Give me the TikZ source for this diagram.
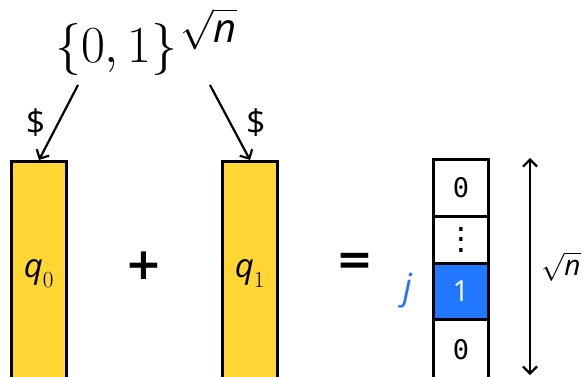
\RequirePackage{fix-cm}
\documentclass[tikz,border=0pt]{standalone}
\usepackage{amsmath}
\usepackage{fontspec}
\setsansfont{Open Sans}
\newfontfamily\monofont{DejaVu Sans Mono}
\newfontfamily\symfont{DejaVu Sans}
\usetikzlibrary{arrows.meta,positioning}
\definecolor{qYellow}{RGB}{255,214,51}
\definecolor{qBlue}{RGB}{33,120,255}
\newcommand{\celldots}{\vbox{\baselineskip=10.5pt\lineskiplimit=-20pt\hbox{.}\hbox{.}\hbox{.}}}

\begin{document}
\begin{tikzpicture}[x=1pt, y=-1pt, >={Straight Barb[length=7pt,width=14pt]}, line width=2.2pt]
\tikzstyle{bar}=[draw, line width=3pt, fill=qYellow, minimum width=55pt, minimum height=224pt, inner sep=0pt, anchor=north, font=\fontsize{33}{33}\selectfont]
\tikzstyle{cell}=[draw, line width=3pt, fill=white, minimum width=55pt, inner sep=0pt, font=\monofont\fontsize{27}{27}\selectfont]
\tikzstyle{lbl}=[font=\sffamily\fontsize{34}{34}\selectfont, inner sep=1pt]
\useasboundingbox (0,0) rectangle (583,376);

% random strings
\node[anchor=base west, inner sep=0pt, font=\fontsize{52}{54}\selectfont] (set) at (54,62) {$\{0,1\}$\hspace{3pt}\raisebox{20pt}{\fontsize{40}{40}\selectfont$\sqrt{\text{\sffamily\itshape n}}$}};
\coordinate (srcL) at (78,85);
\coordinate (srcR) at (210,85);

% the two bars
\node[bar] (q0) at (39,160) {$\text{\sffamily\itshape q}_0$};
\node[bar] (q1) at (250,160) {$\text{\sffamily\itshape q}_1$};
\node[font=\symfont\bfseries\fontsize{44}{44}\selectfont] (plus) at (144,266) {+};
\node[font=\symfont\bfseries\fontsize{44}{44}\selectfont] (eq) at (355,264) {=};

\draw[->] (srcL) -- (q0.north) node[lbl, pos=0.5, left=11pt] (costL) {\$};
\draw[->] (srcR) -- (q1.north) node[lbl, pos=0.5, right=14pt] (costR) {\$};

% result column
\node[cell, minimum height=57pt, anchor=north] (top) at (461,157.5) {0};
\node[cell, minimum height=47pt, below=-3pt of top] (dots) {\celldots};
\node[cell, fill=qBlue, text=white, font=\sffamily\fontsize{29}{29}\selectfont, minimum height=56pt, below=-3pt of dots] (one) {1};
\node[cell, minimum height=62pt, below=-3pt of one] (bot) {0};
\node[lbl, text=qBlue, font=\sffamily\itshape\fontsize{36}{36}\selectfont, left=18pt of one] (jlab) {j};

\coordinate (dimtop) at (530,158);
\coordinate (dimbot) at (530,375);
\draw[<->] (dimtop) -- (dimbot) node[lbl, midway, right=9pt, font=\sffamily\fontsize{28}{28}\selectfont] (dimlab) {$\sqrt{\text{\sffamily\itshape n}}$};
\end{tikzpicture}
\end{document}
